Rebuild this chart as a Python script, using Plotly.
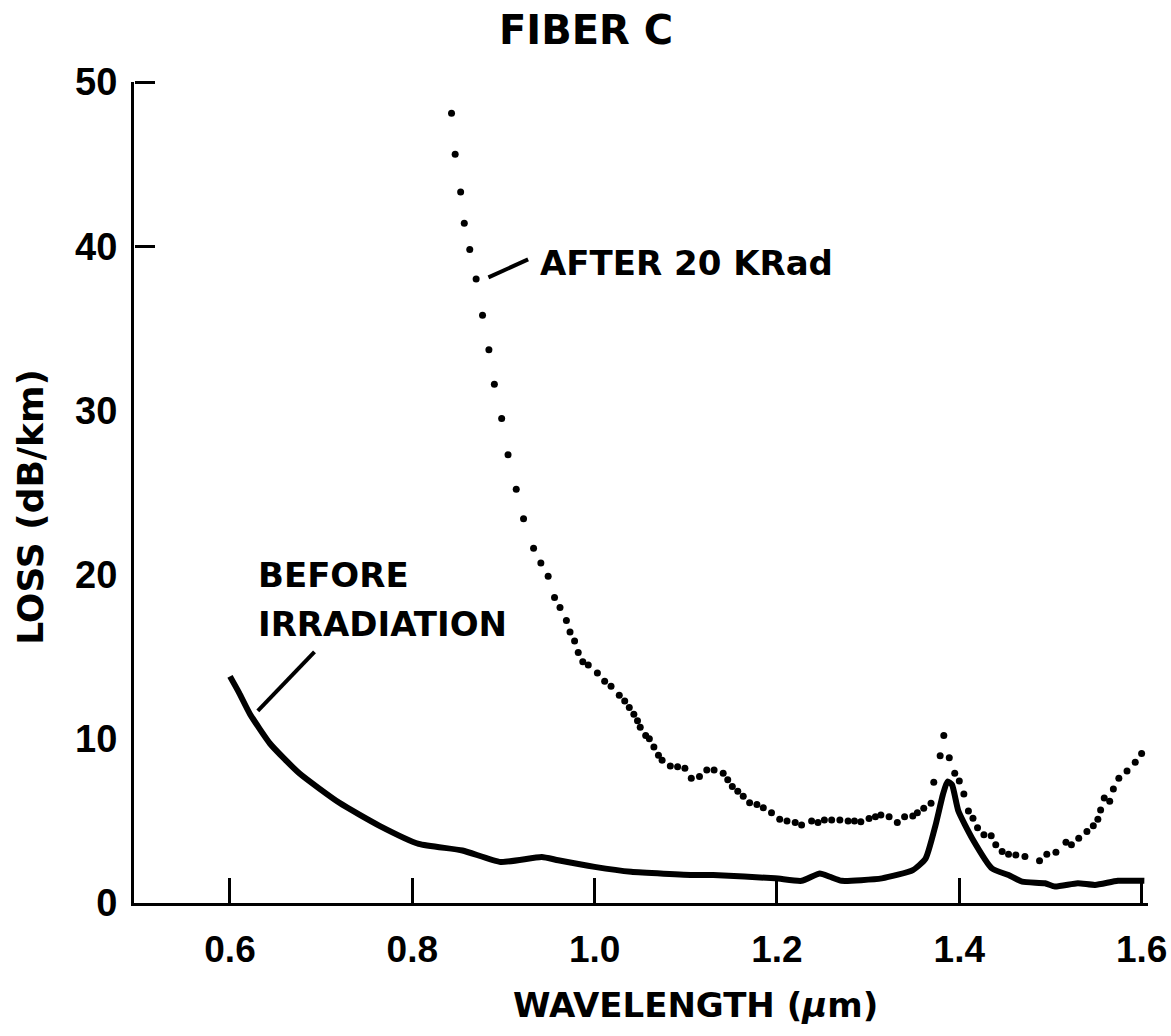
import plotly.graph_objects as go

# ---------------- data ----------------
before_x = [0.600, 0.610, 0.622, 0.644, 0.676, 0.720, 0.764, 0.807, 0.855, 0.897,
            0.942, 0.960, 1.000, 1.040, 1.110, 1.130, 1.198, 1.227, 1.247, 1.258,
            1.271, 1.315, 1.349, 1.363, 1.374, 1.382, 1.387, 1.392, 1.399, 1.414,
            1.436, 1.454, 1.469, 1.494, 1.505, 1.530, 1.549, 1.574, 1.603]
before_y = [13.8, 12.8, 11.5, 9.7, 7.9, 6.1, 4.7, 3.6, 3.2, 2.5,
            2.8, 2.6, 2.2, 1.9, 1.7, 1.7, 1.5, 1.35, 1.8, 1.6,
            1.35, 1.5, 2.0, 2.7, 4.75, 6.6, 7.4, 7.2, 5.6, 3.95,
            2.1, 1.7, 1.3, 1.2, 1.0, 1.2, 1.1, 1.35, 1.35]

after_x = [0.843, 0.847, 0.853, 0.857, 0.863, 0.870, 0.877, 0.884, 0.890, 0.898,
           0.905, 0.914, 0.922, 0.933, 0.941, 0.949, 0.956, 0.962, 0.969, 0.973,
           0.978, 0.982, 0.987, 0.993, 1.003, 1.011, 1.018, 1.027, 1.033, 1.038,
           1.043, 1.047, 1.050, 1.056, 1.060, 1.065, 1.070, 1.074, 1.083, 1.091,
           1.099, 1.106, 1.115, 1.123, 1.131, 1.141, 1.146, 1.151, 1.157, 1.163,
           1.170, 1.178, 1.185, 1.194, 1.203, 1.211, 1.220, 1.227, 1.238, 1.245,
           1.252, 1.260, 1.269, 1.278, 1.285, 1.292, 1.301, 1.308, 1.314, 1.323,
           1.332, 1.340, 1.349, 1.354, 1.361, 1.369, 1.372, 1.379, 1.383, 1.389,
           1.395, 1.400, 1.405, 1.410, 1.415, 1.420, 1.427, 1.435, 1.440, 1.447,
           1.454, 1.462, 1.472, 1.488, 1.496, 1.506, 1.517, 1.523, 1.531, 1.540,
           1.547, 1.552, 1.555, 1.559, 1.565, 1.569, 1.575, 1.584, 1.593, 1.600]
after_y = [48.1, 45.6, 43.3, 41.4, 39.8, 38.0, 35.8, 33.7, 31.6, 29.5,
           27.3, 25.2, 23.4, 21.6, 20.7, 19.9, 18.6, 18.0, 17.2, 16.5,
           15.96, 15.25, 14.7, 14.5, 14.0, 13.5, 13.2, 12.65, 12.3, 11.9,
           11.5, 11.1, 10.7, 10.2, 10.0, 9.5, 9.0, 8.7, 8.35, 8.3,
           8.2, 7.6, 7.7, 8.1, 8.1, 7.9, 7.5, 7.1, 6.8, 6.5,
           6.1, 6.0, 5.8, 5.5, 5.1, 5.0, 4.9, 4.75, 5.0, 4.9,
           5.05, 5.05, 5.05, 5.0, 5.0, 4.95, 5.15, 5.26, 5.36, 5.26,
           4.9, 5.26, 5.3, 5.5, 5.77, 6.07, 7.35, 8.97, 10.2, 8.85,
           7.9, 7.43, 6.64, 5.6, 5.16, 4.59, 4.15, 4.1, 3.54, 3.13,
           2.97, 2.93, 2.83, 2.57, 2.97, 3.09, 3.7, 3.54, 3.95, 4.35,
           4.71, 5.1, 5.67, 6.4, 6.2, 6.94, 7.6, 8.04, 8.57, 9.1]

x_ticks = [0.6, 0.8, 1.0, 1.2, 1.4, 1.6]
x_tick_text = ["0.6", "0.8", "1.0", "1.2", "1.4", "1.6"]
y_ticks = [0, 10, 20, 30, 40, 50]
y_tick_text = ["0", "10", "20", "30", "40", "50"]
y_marked_ticks = [40, 50]

# ---------------- figure ----------------
TXT = "DejaVu Sans"
TICKF = "Liberation Sans, Arial, sans-serif"

fig = go.Figure()
fig.add_trace(go.Scatter(x=after_x, y=after_y, mode="markers",
                         marker=dict(color="black", size=7),
                         cliponaxis=False, showlegend=False, hoverinfo="skip"))
fig.add_trace(go.Scatter(x=before_x, y=before_y, mode="lines", yaxis="y2",
                         line=dict(color="black", width=6, shape="spline", smoothing=0.5),
                         cliponaxis=False, showlegend=False, hoverinfo="skip"))

fig.update_layout(
    width=1171, height=1036,
    margin=dict(l=134, r=23, t=82, b=133),
    paper_bgcolor="white", plot_bgcolor="white",
    xaxis=dict(range=[0.4947, 1.607], tickvals=x_ticks, ticktext=x_tick_text,
               ticks="inside", ticklen=25, tickwidth=3, tickcolor="black",
               showline=True, linewidth=3, linecolor="black",
               showgrid=False, zeroline=False, ticklabelstandoff=12,
               automargin=False, ticklabeloverflow="allow",
               tickfont=dict(family=TICKF, size=37, color="black", weight="bold")),
    yaxis=dict(range=[0, 50], tickvals=y_ticks, ticktext=y_tick_text,
               ticks="", showline=True, linewidth=3, linecolor="black",
               showgrid=False, zeroline=False, ticklabelstandoff=6,
               automargin=False, ticklabeloverflow="allow",
               tickfont=dict(family=TICKF, size=38, color="black", weight="bold")),
    yaxis2=dict(range=[0, 50], overlaying="y", side="right", anchor="free", position=0,
                tickvals=y_marked_ticks, ticks="outside", ticklen=20, tickwidth=3,
                tickcolor="black", showticklabels=False, showline=False,
                showgrid=False, zeroline=False, automargin=False),
)

ann_font = dict(family=TXT, size=34, color="black", weight="bold")
fig.add_annotation(text="FIBER C", xref="paper", yref="paper", x=0.358, y=1.063,
                   xanchor="left", yanchor="middle", showarrow=False,
                   font=dict(family=TXT, size=40, color="black", weight="bold"))
fig.add_annotation(text="LOSS (dB/km)", xref="paper", yref="paper", x=-0.102, y=0.482,
                   xanchor="center", yanchor="middle", textangle=-90, showarrow=False,
                   font=dict(family=TXT, size=36, color="black", weight="bold"))
fig.add_annotation(text="WAVELENGTH (<i>μ</i>m)", xref="paper", yref="paper", x=0.372, y=-0.124,
                   xanchor="left", yanchor="middle", showarrow=False, font=ann_font)
fig.add_annotation(text="AFTER 20 KRad", x=0.938, y=39.0, xanchor="left", yanchor="middle",
                   showarrow=False, font=ann_font)
fig.add_annotation(text="BEFORE", x=0.629, y=20.0, xanchor="left", yanchor="middle",
                   showarrow=False, font=ann_font)
fig.add_annotation(text="IRRADIATION", x=0.629, y=17.0, xanchor="left", yanchor="middle",
                   showarrow=False, font=ann_font)

# leader lines
fig.add_shape(type="line", x0=0.8835, y0=38.1, x1=0.927, y1=39.2,
              line=dict(color="black", width=4))
fig.add_shape(type="line", x0=0.6305, y0=11.7, x1=0.6927, y1=15.3,
              line=dict(color="black", width=4))

fig.write_html("out.html")
